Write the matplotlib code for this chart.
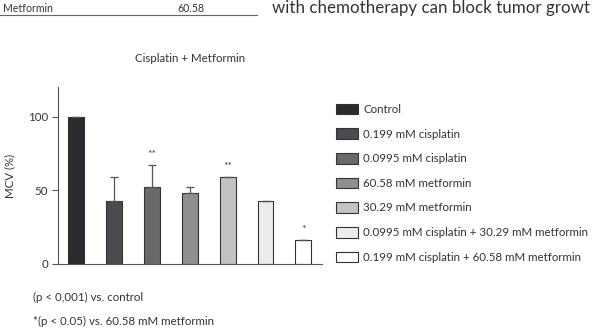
import numpy as np
import matplotlib
matplotlib.use('Agg')
import matplotlib.pyplot as plt

plt.rcParams['font.family'] = ['Lato', 'DejaVu Sans']

# data
labels = ['Control', '0.199 mM cisplatin', '0.0995 mM cisplatin', '60.58 mM metformin',
          '30.29 mM metformin', '0.0995 mM cisplatin + 30.29 mM metformin',
          '0.199 mM cisplatin + 60.58 mM metformin']
mcv = [100, 43, 52, 48, 59, 43, 16.5]
err_up = [0, 16, 15, 4, 0, 0, 0]
marks = ['', '', '**', '', '**', '', '*']
colors = ['#2a2a2f', '#4a4b4f', '#69696c', '#8f8f91', '#c2c2c4', '#ececec', '#ffffff']

W, H = 593, 332
fs = 8.3
fig = plt.figure(figsize=(W / 100, H / 100), dpi=100)

def px(x0, y0, x1, y1):
    return [x0 / W, 1 - y1 / H, (x1 - x0) / W, (y1 - y0) / H]

ax = fig.add_axes(px(58, 87, 322, 264))
x = np.arange(len(mcv))
bars = ax.bar(x, mcv, width=0.42, color=colors, edgecolor='#333333', linewidth=0.8)
ax.errorbar(x, mcv, yerr=[np.zeros(len(mcv)), err_up], fmt='none', ecolor='#555555',
            elinewidth=0.9, capsize=3, capthick=0.9)
for xi, v, e, m in zip(x, mcv, err_up, marks):
    if m:
        ax.text(xi, v + e + 4, m, ha='center', va='bottom', fontsize=7.5, color='#444444')

ax.set_xlim(-0.475, 6.49)
ax.set_ylim(0, 120)
ax.set_yticks([0, 50, 100])
ax.set_xticks([])
for s in ['top', 'right']:
    ax.spines[s].set_visible(False)
for s in ['left', 'bottom']:
    ax.spines[s].set_color('#555555')
    ax.spines[s].set_linewidth(0.8)
ax.tick_params(axis='y', length=4, width=0.8, color='#555555', labelsize=fs,
               labelcolor='#333333', pad=3)
ax.set_ylabel('MCV (%)', fontsize=fs, color='#333333', labelpad=9)

fig.text(190 / W, 1 - 58 / H, 'Cisplatin + Metformin', ha='center', va='center',
         fontsize=fs, color='#333333')

leg = fig.legend(bars, labels, loc='upper left', bbox_to_anchor=(331 / W, 1 - 99 / H),
                 frameon=False, fontsize=fs, handlelength=1.9, handleheight=1.05,
                 handletextpad=0.5, labelspacing=1.16, borderaxespad=0)
for t in leg.get_texts():
    t.set_color('#333333')

fig.text(33 / W, 1 - 297 / H, '(p < 0,001) vs. control', ha='left', va='center',
         fontsize=fs, color='#333333')
fig.text(33 / W, 1 - 321 / H, '*(p < 0.05) vs. 60.58 mM metformin', ha='left', va='center',
         fontsize=fs, color='#333333')

# header piece of the page (text is cut at the page edge in the source)
fig.text(3 / W, 1 - 8 / H, 'Metformin', ha='left', va='center', fontsize=7.6, color='#333333')
fig.text(177 / W, 1 - 8 / H, '60.58', ha='left', va='center', fontsize=7.6, color='#333333')
fig.add_artist(plt.Line2D([0, 257 / W], [1 - 14.5 / H, 1 - 14.5 / H], color='#666666', lw=0.8))
fig.text(272 / W, 1 - 8 / H, 'with chemotherapy can block tumor growt', ha='left', va='center',
         fontsize=12.2, color='#333333')

fig.savefig('out.png', dpi=100)
